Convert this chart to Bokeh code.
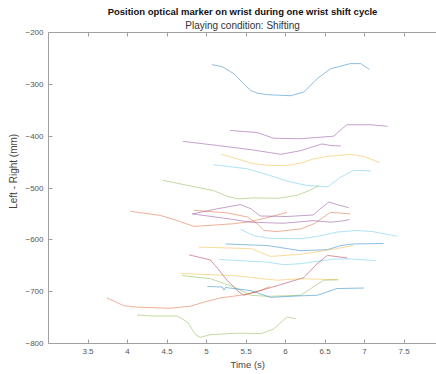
from bokeh.plotting import figure
from bokeh.models import Range1d, LinearAxis, FixedTicker, Title
from bokeh.embed import file_html
from bokeh.resources import INLINE

# ---- data ----
t01 = [5.07, 5.20, 5.35, 5.47, 5.56, 5.64, 5.77, 6.06, 6.23, 6.40, 6.57, 6.82, 6.95, 7.06]
y01 = [-262, -266, -280, -299, -312, -317, -320, -322, -315, -289, -270, -260, -260, -271]
t02 = [5.30, 5.64, 5.85, 6.19, 6.61, 6.72, 6.78, 7.08, 7.29]
y02 = [-389, -393, -404, -405, -400, -385, -378, -378, -381]
t03 = [4.70, 5.14, 5.56, 5.94, 6.19, 6.46, 6.57, 6.70]
y03 = [-410, -418, -426, -435, -428, -415, -418, -419]
t04 = [5.18, 5.40, 5.56, 5.75, 6.00, 6.19, 6.35, 6.53, 6.82, 6.99, 7.19]
y04 = [-435, -444, -452, -456, -457, -452, -444, -439, -435, -439, -451]
t05 = [5.09, 5.52, 5.85, 6.02, 6.27, 6.53, 6.70, 6.86, 7.08]
y05 = [-455, -463, -478, -487, -495, -498, -479, -466, -467]
t06 = [4.44, 4.76, 5.09, 5.26, 5.40, 5.60, 5.90, 6.15, 6.30, 6.42]
y06 = [-485, -495, -505, -516, -521, -519, -520, -514, -505, -495]
t07 = [4.04, 4.42, 4.63, 4.84, 5.05, 5.34, 5.55, 5.72, 6.02]
y07 = [-545, -553, -563, -574, -572, -569, -565, -559, -547]
t08 = [4.82, 5.14, 5.43, 5.56, 5.68, 6.02, 6.35, 6.44, 6.55, 6.65, 6.80]
y08 = [-550, -540, -532, -540, -554, -555, -552, -540, -527, -532, -538]
t09 = [4.82, 5.26, 5.56, 5.97, 6.35, 6.57, 6.70, 6.81]
y09 = [-550, -559, -566, -568, -563, -566, -564, -561]
t10 = [4.84, 5.26, 5.52, 5.64, 5.73, 5.89, 6.19, 6.36, 6.57, 6.82]
y10 = [-543, -548, -556, -569, -582, -584, -579, -569, -547, -550]
t11 = [5.43, 5.60, 5.80, 6.20, 6.45, 6.65, 6.90, 7.10, 7.41]
y11 = [-580, -592, -597, -598, -592, -585, -582, -584, -593]
t12 = [5.24, 5.77, 6.19, 6.53, 6.70, 6.86, 7.24]
y12 = [-608, -611, -621, -619, -611, -608, -607]
t13 = [4.90, 5.56, 5.81, 6.19, 6.53, 6.86]
y13 = [-614, -617, -632, -628, -620, -611]
t14 = [5.16, 5.77, 5.98, 6.19, 6.61, 6.82, 7.14]
y14 = [-638, -643, -648, -646, -637, -637, -640]
t15 = [4.78, 5.05, 5.14, 5.26, 5.39, 5.47, 5.77, 6.23, 6.40, 6.53, 6.78]
y15 = [-629, -639, -655, -678, -698, -707, -694, -673, -646, -630, -635]
t16 = [4.67, 5.35, 5.89, 6.19, 6.67]
y16 = [-665, -669, -678, -675, -677]
t17 = [4.69, 5.05, 5.35, 5.56, 5.77, 6.19, 6.32, 6.48, 6.66]
y17 = [-669, -675, -691, -707, -709, -707, -694, -678, -677]
t18 = [5.01, 5.20, 5.22, 5.24, 5.56, 5.81, 6.19, 6.40, 6.65, 6.99]
y18 = [-690, -691, -697, -692, -698, -711, -708, -707, -694, -693]
t19 = [3.74, 3.95, 4.12, 4.54, 4.80, 4.97, 5.18, 5.47, 5.68, 5.80]
y19 = [-712, -727, -730, -732, -728, -720, -712, -706, -698, -690]
t20 = [4.12, 4.33, 4.63, 4.76, 4.86, 4.92, 5.05, 5.39, 5.68, 5.73, 5.85, 5.98, 6.02, 6.13]
y20 = [-745, -747, -747, -759, -783, -788, -783, -780, -781, -779, -772, -754, -749, -752]

x_ticks = [3.5, 4, 4.5, 5, 5.5, 6, 6.5, 7, 7.5]
y_ticks = [-800, -700, -600, -500, -400, -300, -200]

BLUE = "#0072BD"
ORANGE = "#D95319"
YELLOW = "#EDB120"
PURPLE = "#7E2F8E"
GREEN = "#77AC30"
LBLUE = "#4DBEEE"
DRED = "#A2142F"

series = [
    (t01, y01, BLUE), (t02, y02, PURPLE), (t03, y03, PURPLE), (t04, y04, YELLOW),
    (t05, y05, LBLUE), (t06, y06, GREEN), (t07, y07, ORANGE), (t08, y08, PURPLE),
    (t09, y09, PURPLE), (t10, y10, ORANGE), (t11, y11, LBLUE), (t12, y12, BLUE),
    (t13, y13, YELLOW), (t14, y14, LBLUE), (t15, y15, DRED), (t16, y16, YELLOW),
    (t17, y17, GREEN), (t18, y18, BLUE), (t19, y19, ORANGE), (t20, y20, GREEN),
]

FONT = "Liberation Sans"
AXC = "#a0a0a0"
TXT = "#555555"
NB = "\u00a0"

p = figure(width=436, height=374, output_backend="svg", toolbar_location=None,
           x_range=Range1d(3, 7.91), y_range=Range1d(-800, -200),
           min_border_left=48, min_border_right=0, min_border_top=32, min_border_bottom=31,
           x_axis_label=NB * 4 + "Time (s)")
p.title = None
p.grid.visible = False
p.outline_line_color = None
p.background_fill_color = "white"
p.border_fill_color = "white"

for xs, ys, c in series:
    p.line(xs, ys, line_color=c, line_width=1, line_alpha=0.45)

for ax in (p.xaxis[0], p.yaxis[0]):
    ax.axis_line_color = AXC
    ax.major_tick_line_color = AXC
    ax.minor_tick_line_color = None
    ax.major_tick_in = 4
    ax.major_tick_out = 0
    ax.major_label_text_font = FONT
    ax.major_label_text_font_size = "8px"
    ax.major_label_text_color = TXT
    ax.axis_label_text_font = FONT
    ax.axis_label_text_font_size = "9.5px"
    ax.axis_label_text_font_style = "normal"
    ax.axis_label_text_color = "#444444"

p.xaxis[0].ticker = FixedTicker(ticks=x_ticks)
p.xaxis[0].major_label_overrides = {4: "4", 5: "5", 6: "6", 7: "7"}
p.xaxis[0].major_label_standoff = 5
p.xaxis[0].axis_label_standoff = 2
p.yaxis[0].ticker = FixedTicker(ticks=y_ticks)
p.yaxis[0].major_label_standoff = 5

# y-axis title, sitting a little above the middle like the reference
ylab = LinearAxis(ticker=FixedTicker(ticks=[]),
                  axis_line_color=None, major_tick_line_color=None,
                  minor_tick_line_color=None, major_label_text_font_size="0px",
                  major_label_standoff=0, major_tick_in=0, major_tick_out=0,
                  axis_label=NB * 12 + "Left - Right (mm)", axis_label_standoff=4,
                  axis_label_text_font=FONT, axis_label_text_font_size="10px",
                  axis_label_text_font_style="normal", axis_label_text_color="#444444")
p.add_layout(ylab, "left")

top = LinearAxis(ticker=FixedTicker(ticks=x_ticks), axis_line_color=AXC,
                 major_tick_line_color=AXC, minor_tick_line_color=None,
                 major_tick_in=4, major_tick_out=0, major_label_text_font_size="0px",
                 major_label_standoff=0, major_label_text_color=None)
p.add_layout(top, "above")

p.add_layout(Title(text="Playing condition: Shifting", align="center",
                   text_font=FONT, text_font_size="10px", text_font_style="normal",
                   text_color="#333333", standoff=3, offset=3), "above")
p.add_layout(Title(text="Position optical marker on wrist during one wrist shift cycle",
                   align="center", text_font=FONT, text_font_size="9.5px",
                   text_font_style="bold", text_color="#111111", standoff=0, offset=3), "above")

open("out.html", "w").write(file_html(p, INLINE))
